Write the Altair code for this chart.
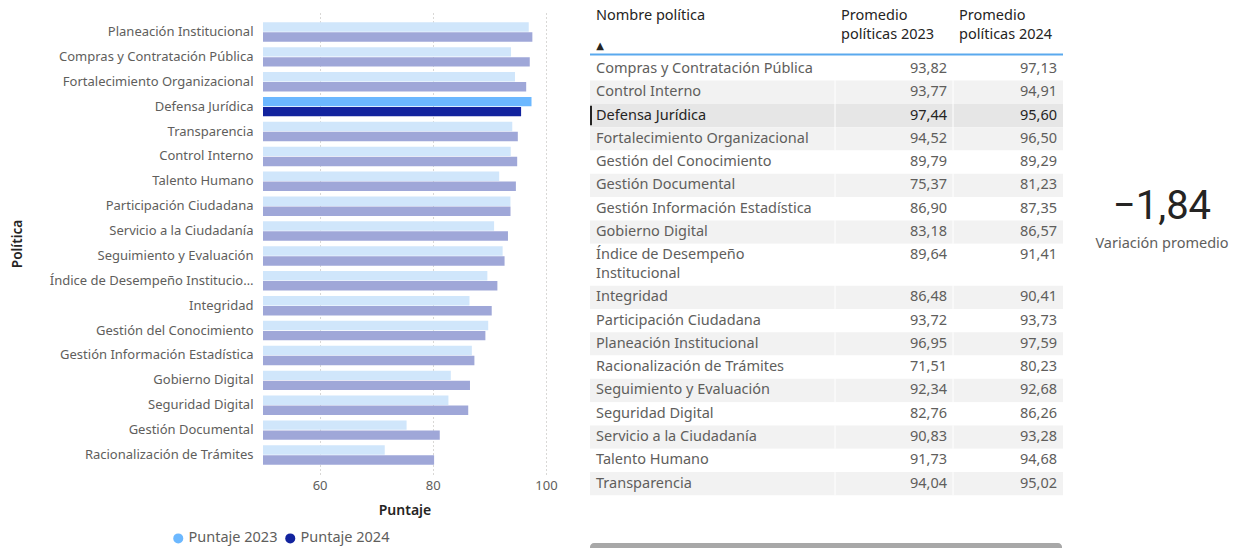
import altair as alt
import pandas as pd

FONT = "Noto Sans"

# ---------------- data ----------------
policies = [
    "Planeación Institucional", "Compras y Contratación Pública", "Fortalecimiento Organizacional",
    "Defensa Jurídica", "Transparencia", "Control Interno", "Talento Humano",
    "Participación Ciudadana", "Servicio a la Ciudadanía", "Seguimiento y Evaluación",
    "Índice de Desempeño Institucional", "Integridad", "Gestión del Conocimiento",
    "Gestión Información Estadística", "Gobierno Digital", "Seguridad Digital",
    "Gestión Documental", "Racionalización de Trámites",
]
score_2023 = [96.95, 93.82, 94.52, 97.44, 94.04, 93.77, 91.73, 93.72, 90.83, 92.34,
              89.64, 86.48, 89.79, 86.90, 83.18, 82.76, 75.37, 71.51]
score_2024 = [97.59, 97.13, 96.50, 95.60, 95.02, 94.91, 94.68, 93.73, 93.28, 92.68,
              91.41, 90.41, 89.29, 87.35, 86.57, 86.26, 81.23, 80.23]
series = ["Puntaje 2023", "Puntaje 2024"]
selected = "Defensa Jurídica"

table_order = [
    "Compras y Contratación Pública", "Control Interno", "Defensa Jurídica",
    "Fortalecimiento Organizacional", "Gestión del Conocimiento", "Gestión Documental",
    "Gestión Información Estadística", "Gobierno Digital", "Índice de Desempeño Institucional",
    "Integridad", "Participación Ciudadana", "Planeación Institucional",
    "Racionalización de Trámites", "Seguimiento y Evaluación", "Seguridad Digital",
    "Servicio a la Ciudadanía", "Talento Humano", "Transparencia",
]
table_wrapped = {"Índice de Desempeño Institucional": "Índice de Desempeño\nInstitucional"}
header_name = "Nombre política"
header_2023 = ["Promedio", "políticas 2023"]
header_2024 = ["Promedio", "políticas 2024"]
kpi_label = "Variación promedio"

# ---------------- frames ----------------
rows = []
for p, a, b in zip(policies, score_2023, score_2024):
    for s, v in zip(series, [a, b]):
        key = s if p == selected else "dim " + s
        rows.append({"Política": p, "Serie": s, "Puntaje": v, "Clave": key})
bar_df = pd.DataFrame(rows)

lookup23 = dict(zip(policies, score_2023))
lookup24 = dict(zip(policies, score_2024))
trows = []
pos = 0.0
for i, p in enumerate(table_order):
    lbl = table_wrapped.get(p, p)
    h = 1.0 + 0.8 * lbl.count("\n")
    sel = p == selected
    trows.append({
        "name": p, "label": lbl, "v23": lookup23[p], "v24": lookup24[p],
        "top": pos, "bottom": pos + h, "mid": pos + 0.5,
        "bg": "#E6E6E6" if sel else ("#FFFFFF" if i % 2 == 0 else "#F2F2F2"),
        "fg": "#252423" if sel else "#605E5C",
        "sel": sel,
    })
    pos += h
table_df = pd.DataFrame(trows)
total_units = pos

TFS = 14.5  # table font size

# ---------------- bar chart ----------------
keys = ["Puntaje 2023", "Puntaje 2024", "dim Puntaje 2023", "dim Puntaje 2024"]
key_colors = ["#6CB8FF", "#12239E", "#D0E6FB", "#9FA7D8"]

bars = alt.Chart(bar_df).mark_bar(clip=True).encode(
    y=alt.Y("Política:N", sort=policies,
            scale=alt.Scale(paddingInner=0.22, paddingOuter=0.375),
            axis=alt.Axis(title="Política", labelLimit=206, labelPadding=10, ticks=False,
                          domain=False, labelFont=FONT, labelFontSize=13, labelColor="#605E5C",
                          titleFont=FONT, titleFontSize=13.5, titleColor="#252423",
                          titleFontWeight=600, titleX=-246, titleBaseline="middle")),
    yOffset=alt.YOffset("Serie:N", sort=series, scale=alt.Scale(paddingInner=0.06)),
    x=alt.X("Puntaje:Q", scale=alt.Scale(domain=[50, 100], nice=False, zero=False),
            axis=alt.Axis(title="Puntaje", values=[60, 80, 100], grid=True, gridDash=[1, 3],
                          gridColor="#B3B0AD", ticks=False, domain=False, labelPadding=5,
                          labelFlush=False,
                          labelFont=FONT, labelFontSize=13, labelColor="#605E5C",
                          titleFont=FONT, titleFontSize=14, titleColor="#252423",
                          titleFontWeight=600, titlePadding=11)),
    color=alt.Color("Clave:N", scale=alt.Scale(domain=keys, range=key_colors),
                    legend=alt.Legend(values=series, orient="none", legendX=-92, legendY=518,
                                      direction="horizontal", title=None, symbolType="circle",
                                      symbolSize=100, labelFont=FONT, labelFontSize=14.5,
                                      labelColor="#605E5C", labelOffset=3, columnPadding=5)),
).properties(width=283, height=461)

# ---------------- table ----------------
TW = 473
yscale = alt.Scale(domain=[0, total_units], range=[44.3, 44.3 + 23.3 * total_units])
tbase = alt.Chart(table_df)

bg = tbase.mark_rect().encode(
    y=alt.Y("top:Q", scale=yscale, axis=None), y2="bottom:Q",
    x=alt.value(0), x2=alt.value(TW), color=alt.Color("bg:N", scale=None))

seps = tbase.mark_rule(color="#FFFFFF", strokeWidth=1).encode(
    y=alt.Y("top:Q", scale=yscale, axis=None), y2="bottom:Q", x=alt.value(245))
seps2 = tbase.mark_rule(color="#FFFFFF", strokeWidth=1).encode(
    y=alt.Y("top:Q", scale=yscale, axis=None), y2="bottom:Q", x=alt.value(363))

marker = tbase.transform_filter("datum.sel").transform_calculate(
    t="datum.top + 0.08", b="datum.bottom - 0.08").mark_rect(color="#252423").encode(
    y=alt.Y("t:Q", scale=yscale, axis=None), y2="b:Q", x=alt.value(0), x2=alt.value(2))

names = tbase.mark_text(align="left", baseline="middle", font=FONT, fontSize=TFS,
                        lineBreak="\n", lineHeight=19).encode(
    x=alt.value(6), y=alt.Y("mid:Q", scale=yscale, axis=None), text="label:N",
    color=alt.Color("fg:N", scale=None))

v23 = tbase.transform_calculate(txt="replace(format(datum.v23, '.2f'), '.', ',')").mark_text(
    align="right", baseline="middle", font=FONT, fontSize=TFS).encode(
    x=alt.value(357), y=alt.Y("mid:Q", scale=yscale, axis=None), text="txt:N",
    color=alt.Color("fg:N", scale=None))
v24 = tbase.transform_calculate(txt="replace(format(datum.v24, '.2f'), '.', ',')").mark_text(
    align="right", baseline="middle", font=FONT, fontSize=TFS).encode(
    x=alt.value(467), y=alt.Y("mid:Q", scale=yscale, axis=None), text="txt:N",
    color=alt.Color("fg:N", scale=None))


def header(text, x, y):
    return alt.Chart(pd.DataFrame({"t": [text]})).mark_text(
        align="left", baseline="middle", font=FONT, fontSize=TFS, color="#252423").encode(
        x=alt.value(x), y=alt.value(y), text="t:N")


h_name = header(header_name, 6, 3)
h23a = header(header_2023[0], 251, 3)
h23b = header(header_2023[1], 251, 22)
h24a = header(header_2024[0], 369, 3)
h24b = header(header_2024[1], 369, 22)
arrow = alt.Chart(pd.DataFrame({"t": ["▲"]})).mark_text(
    align="center", baseline="middle", font="DejaVu Sans", fontSize=10, color="#252423").encode(
    x=alt.value(10), y=alt.value(33), text="t:N")
hline = alt.Chart(pd.DataFrame({"t": [0]})).mark_rule(color="#5AA9EE", strokeWidth=2).encode(
    x=alt.value(0), x2=alt.value(TW), y=alt.value(41.5))
scroll = alt.Chart(pd.DataFrame({"t": [0]})).mark_rect(color="#A8A8A8", cornerRadius=4).encode(
    x=alt.value(0), x2=alt.value(TW - 1), y=alt.value(530), y2=alt.value(542))

table = alt.layer(bg, seps, seps2, marker, names, v23, v24, h_name, h23a, h23b, h24a, h24b,
                  arrow, hline, scroll).properties(width=TW, height=535)

# ---------------- KPI card ----------------
kpi_val = tbase.transform_filter("datum.sel").transform_calculate(
    txt="replace(format(datum.v24 - datum.v23, '.2f'), '.', ',')").mark_text(
    align="center", baseline="middle", font="Roboto", fontSize=40, color="#252423").encode(
    x=alt.value(55), y=alt.value(194), text="txt:N")
kpi_lbl = alt.Chart(pd.DataFrame({"t": [kpi_label]})).mark_text(
    align="center", baseline="middle", font=FONT, fontSize=14.5, color="#605E5C").encode(
    x=alt.value(55), y=alt.value(231), text="t:N")
kpi = alt.layer(kpi_val, kpi_lbl).properties(width=110, height=535)

chart = alt.hconcat(bars, table, kpi, spacing=44, bounds="flush").properties(
    autosize=alt.AutoSizeParams(type="none"),
    padding={"left": 263, "top": 13, "right": 975, "bottom": 535},
    background="#FFFFFF",
).configure_view(stroke="transparent")

chart.save("out.html", embed_options={"renderer": "svg", "actions": False})
